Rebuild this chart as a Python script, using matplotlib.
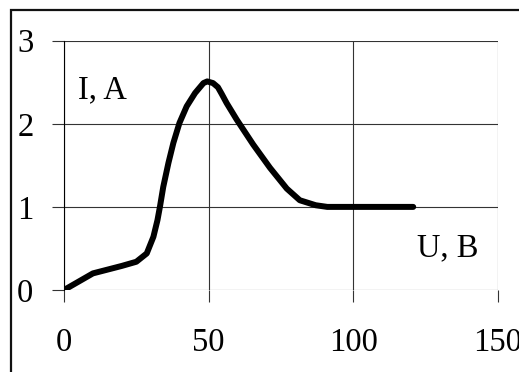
import numpy as np
from matplotlib import pyplot as plt
from matplotlib.patches import Rectangle

# Data
uVals = [0, 10, 20, 25, 28.6, 30.9, 32.3, 33.2, 34.3, 36.1, 37.8, 39.9, 42.4, 45.3,
         48.2, 49.5, 51.5, 53.2, 54.5, 56.2, 59.7, 65.4, 71.2, 77, 81.5, 87, 91,
         100, 110, 120.7]
iVals = [0, 0.2, 0.29, 0.34, 0.44, 0.64, 0.84, 1.01, 1.24, 1.53, 1.77, 2.01, 2.21, 2.37,
         2.49, 2.51, 2.49, 2.44, 2.36, 2.25, 2.05, 1.75, 1.47, 1.22, 1.08, 1.02, 1.0,
         1.0, 1.0, 1.0]
xTicks = [0, 50, 100, 150]
yTicks = [0, 1, 2, 3]
yLabel = "I, A"
xLabel = "U, B"


def plot_curve(U=None, I=None):
    """
    ARGS:
        U : list, voltage values
        I : list, current values
    DESCRIPTION:
        Plots I(U) in an Excel-like framed chart, saves out.png
    RETURN:
        N/A
    """
    plt.rcParams['font.family'] = ['Liberation Serif', 'DejaVu Serif']
    fig = plt.figure(figsize=(5.19, 3.72), dpi=100)
    fig.patch.set_facecolor('white')

    # Outer chart frame (runs off the right and bottom edges)
    frame = Rectangle((10.5/519, -0.2), 1.5, (372-10.5)/372 + 0.2,
                      transform=fig.transFigure, fill=False,
                      edgecolor='#111111', linewidth=1.6, zorder=0)
    fig.patches.append(frame)

    ax = fig.add_axes([64/519, 82/372, 434/519, 249.3/372])
    ax.plot(U, I, color='black', linewidth=4.3, solid_capstyle='round',
            solid_joinstyle='round', zorder=3)

    ax.set_xlim(0, 150)
    ax.set_ylim(0, 3)
    ax.set_xticks(xTicks)
    ax.set_yticks(yTicks)
    ax.grid(True, color='#333333', linewidth=0.8)
    for side in ['top', 'right', 'bottom']:
        ax.spines[side].set_visible(False)
    ax.spines['left'].set_color('black')
    ax.spines['left'].set_linewidth(0.8)
    ax.tick_params(axis='both', direction='out', length=8.5, width=0.8,
                   color='#333333', labelsize=23.5)
    ax.tick_params(axis='x', pad=18.5)
    ax.tick_params(axis='y', pad=13.5)

    ax.text(4.8, 2.31, yLabel, fontsize=23.5, ha='left', va='baseline')
    ax.text(122, 0.40, xLabel, fontsize=23.5, ha='left', va='baseline')

    fig.savefig("out.png", dpi=100)
    plt.close(fig)


def main():
    plot_curve(U=uVals, I=iVals)


if __name__ == "__main__":
    main()
